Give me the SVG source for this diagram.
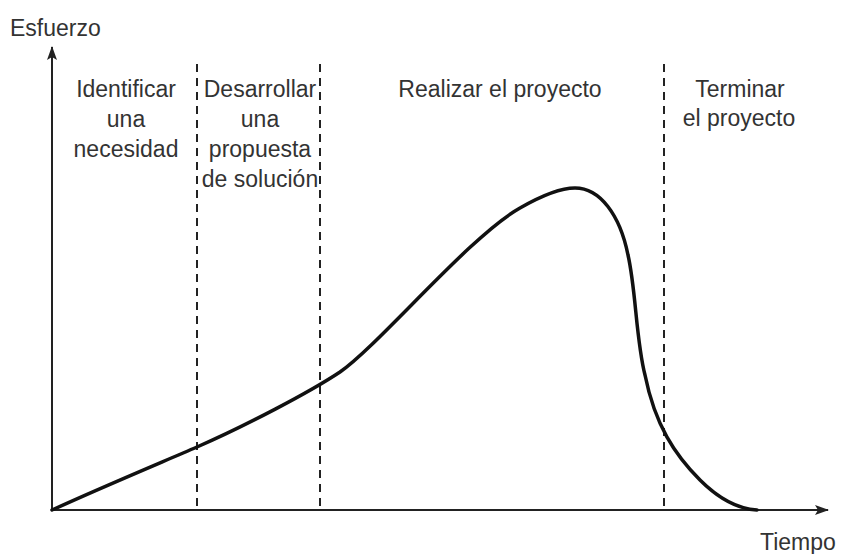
<svg xmlns="http://www.w3.org/2000/svg" width="841" height="554" viewBox="0 0 841 554">
<style>
text{font-family:"Liberation Sans",Arial,sans-serif;font-size:23px;fill:#333}
.c{text-anchor:middle}
.ax{stroke:#222;stroke-width:2;fill:none}
.dash{stroke:#222;stroke-width:2;stroke-dasharray:8 6;fill:none}
.curve{stroke:#111;stroke-width:3.5;fill:none;stroke-linecap:round}
</style>
<defs>
<marker id="arr" viewBox="0 0 14 10" refX="13" refY="5" markerWidth="14" markerHeight="10" markerUnits="userSpaceOnUse" orient="auto">
<path d="M0,0 L14,5 L0,10 L3,5 Z" fill="#222"/>
</marker>
</defs>
<rect width="841" height="554" fill="#fff"/>
<g id="connectors">
<line class="ax" x1="52" y1="510" x2="52" y2="47" marker-end="url(#arr)"/>
<line class="ax" x1="52" y1="510" x2="828" y2="510" marker-end="url(#arr)"/>
<line class="dash" x1="197" y1="64" x2="197" y2="510"/>
<line class="dash" x1="320" y1="64" x2="320" y2="510"/>
<line class="dash" x1="664" y1="64" x2="664" y2="510"/>
<path class="curve" d="M52,510 C100,488 160,463 197,447 C245,426 310,392 340,372 C380,344 470,236 520,208 C538,197.7 560,188 575,188 C600,188 620,215 628,255 C636,290 636,340 645,375 C655,425 675,455 700,480 C720,500 740,509 757,510"/>
</g>
<g id="axis-y-label"><text x="10" y="36">Esfuerzo</text></g>
<g id="axis-x-label"><text x="760" y="550">Tiempo</text></g>
<g id="phase1"><text class="c" x="126" y="97">Identificar</text><text class="c" x="126" y="127">una</text><text class="c" x="126" y="157">necesidad</text></g>
<g id="phase2"><text class="c" x="260" y="97">Desarrollar</text><text class="c" x="260" y="127">una</text><text class="c" x="260" y="157">propuesta</text><text class="c" x="260" y="187">de solución</text></g>
<g id="phase3"><text class="c" x="500" y="97">Realizar el proyecto</text></g>
<g id="phase4"><text class="c" x="740" y="97">Terminar</text><text class="c" x="739" y="126">el proyecto</text></g>
</svg>
